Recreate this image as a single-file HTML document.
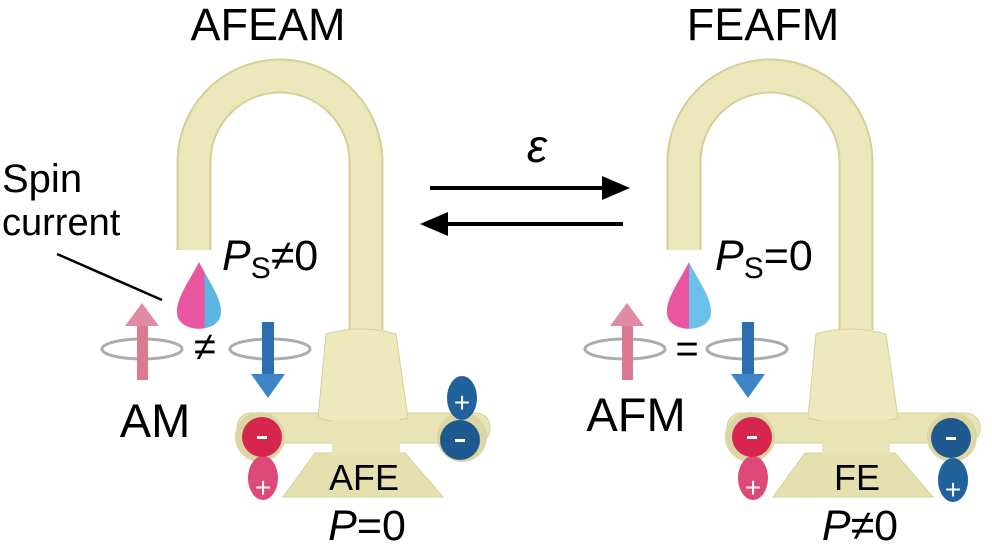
<!DOCTYPE html>
<html><head><meta charset="utf-8"><style>
body{margin:0;background:#fff}
svg{display:block}
text{font-family:"Liberation Sans","DejaVu Sans",sans-serif;fill:#000}
</style></head><body>
<svg width="992" height="555" viewBox="0 0 992 555" xmlns="http://www.w3.org/2000/svg">
<defs>
<linearGradient id="drop" x1="0" x2="1"><stop offset="0.62" stop-color="#e9559f"/><stop offset="0.62" stop-color="#5cb4e0"/></linearGradient>
<linearGradient id="drop2" x1="0" x2="1"><stop offset="0.5" stop-color="#e9559f"/><stop offset="0.5" stop-color="#6cc0ea"/></linearGradient>
<g id="faucet">
<path d="M194 250 V162 A86 86 0 0 1 366 162 V330" fill="none" stroke="#d6cf98" stroke-width="35"/>
<path d="M194 250 V162 A86 86 0 0 1 366 162 V330" fill="none" stroke="#ebe7ba" stroke-width="31"/>
<path d="M283 497 L315 453 L405 453 L443 497 Z" fill="#e6e0b0" stroke="#d6cf98"/>
<rect x="237" y="413" width="253" height="30" rx="14" fill="#e9e4b6" stroke="#d6cf98"/>
<path d="M326 334 Q360 324 396 334 L408 418 Q362 430 318 418 Z" fill="#eee9bd" stroke="#d6cf98"/>
<rect x="332" y="420" width="68" height="35" fill="#e9e4b6"/>
<circle cx="260" cy="437" r="25" fill="#ddd6a4"/>
<circle cx="462" cy="437" r="25" fill="#ddd6a4"/>
</g>
<g id="rings">
<ellipse cx="0" cy="0" rx="40" ry="10" fill="none" stroke="#acacac" stroke-width="3"/>
</g>
</defs>

<text x="268" y="40" font-size="45" text-anchor="middle">AFEAM</text>
<text x="763" y="40" font-size="45" text-anchor="middle">FEAFM</text>

<use href="#faucet"/>
<use href="#faucet" transform="translate(490,0)"/>

<!-- left handles -->
<ellipse cx="263" cy="478" rx="15" ry="22" fill="#de4a78"/>
<circle cx="262" cy="437" r="20" fill="#d6264e"/>
<rect x="257" y="436" width="10" height="3" fill="#fff"/>
<text x="263" y="497" font-size="28" text-anchor="middle" style="fill:#fff">+</text>
<ellipse cx="462" cy="398" rx="15" ry="22" fill="#22629c"/>
<circle cx="460" cy="440" r="20" fill="#1e5a90"/>
<text x="462" y="412" font-size="28" text-anchor="middle" style="fill:#fff">+</text>
<rect x="455" y="439" width="10" height="3" fill="#fff"/>
<!-- right handles -->
<ellipse cx="753" cy="478" rx="15" ry="22" fill="#de4a78"/>
<circle cx="752" cy="437" r="20" fill="#d6264e"/>
<rect x="747" y="436" width="10" height="3" fill="#fff"/>
<text x="753" y="497" font-size="28" text-anchor="middle" style="fill:#fff">+</text>
<ellipse cx="953" cy="480" rx="15" ry="22" fill="#22629c"/>
<circle cx="951" cy="438" r="20" fill="#1e5a90"/>
<rect x="946" y="437" width="10" height="3" fill="#fff"/>
<text x="953" y="499" font-size="28" text-anchor="middle" style="fill:#fff">+</text>

<!-- drops -->
<path d="M199 262 C190 280 176 298 177 313 C178 334 220 334 221 313 C222 298 208 280 199 262 Z" fill="url(#drop)"/>
<path d="M689 262 C680 280 666 298 667 313 C668 334 710 334 711 313 C712 298 698 280 689 262 Z" fill="url(#drop2)"/>

<!-- spin arrows left -->
<use href="#rings" transform="translate(142,349)"/>
<rect x="137" y="322" width="11" height="58" fill="#d97a90"/>
<path d="M125 326 L142 303 L159 326 Z" fill="#e08aa4"/>
<text x="205" y="360" font-size="40" text-anchor="middle">≠</text>
<use href="#rings" transform="translate(270,349)"/>
<rect x="262" y="322" width="12" height="53" fill="#2a6fb0"/>
<path d="M251 374 L268 398 L285 374 Z" fill="#3b86c8"/>
<!-- right -->
<use href="#rings" transform="translate(625,349)"/>
<rect x="622" y="322" width="11" height="58" fill="#d97a90"/>
<path d="M610 326 L627 303 L644 326 Z" fill="#e08aa4"/>
<text x="687" y="362" font-size="40" text-anchor="middle">=</text>
<use href="#rings" transform="translate(747,349)"/>
<rect x="742" y="322" width="12" height="53" fill="#2a6fb0"/>
<path d="M731 374 L748 398 L765 374 Z" fill="#3b86c8"/>

<!-- labels -->
<text x="2" y="192" font-size="40">Spin</text>
<text x="2" y="235" font-size="38">current</text>
<line x1="57" y1="254" x2="162" y2="300" stroke="#000" stroke-width="2.5"/>
<text x="155" y="437" font-size="47" text-anchor="middle">AM</text>
<text x="636" y="431" font-size="47" text-anchor="middle">AFM</text>
<text x="222" y="270" font-size="43"><tspan font-style="italic">P</tspan><tspan font-size="30" dy="8">S</tspan><tspan dy="-8">≠0</tspan></text>
<text x="715" y="270" font-size="43"><tspan font-style="italic">P</tspan><tspan font-size="30" dy="8">S</tspan><tspan dy="-8">=0</tspan></text>
<text x="364" y="490" font-size="36" text-anchor="middle">AFE</text>
<text x="857" y="490" font-size="36" text-anchor="middle">FE</text>
<text x="367" y="540" font-size="43" text-anchor="middle"><tspan font-style="italic">P</tspan>=0</text>
<text x="860" y="540" font-size="43" text-anchor="middle"><tspan font-style="italic">P</tspan>≠0</text>

<!-- arrows -->
<text x="537" y="162" font-size="46" font-style="italic" text-anchor="middle">ε</text>
<line x1="430" y1="188" x2="605" y2="188" stroke="#000" stroke-width="4"/>
<path d="M630 188 L602 176 L602 200 Z" fill="#000"/>
<line x1="445" y1="224" x2="623" y2="224" stroke="#000" stroke-width="4"/>
<path d="M420 224 L448 212 L448 236 Z" fill="#000"/>
</svg>
</body></html>
